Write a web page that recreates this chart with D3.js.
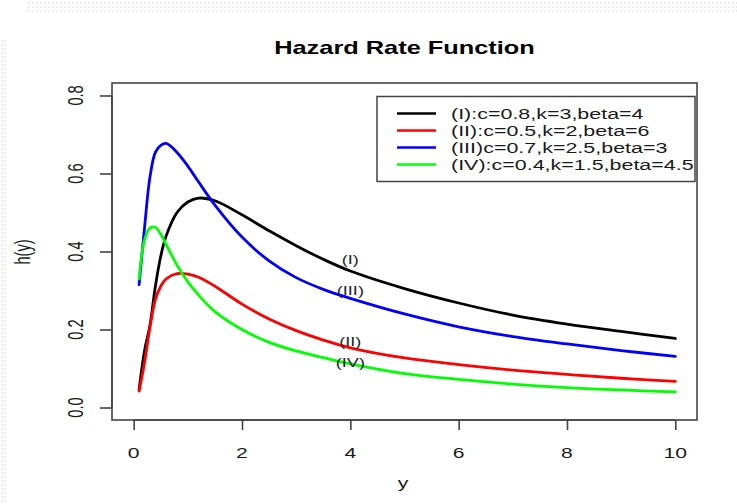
<!DOCTYPE html>
<html>
<head>
<meta charset="utf-8">
<script src="https://cdn.jsdelivr.net/npm/d3@7"></script>
<style>
  body { margin: 0; background: #fff; }
  svg { display: block; font-family: "Liberation Sans", Arial, sans-serif; }
</style>
</head>
<body>
<svg id="chart"></svg>
<script>
// x grid used by every curve
const xVals = [0.1, 0.2, 0.3, 0.4, 0.5, 0.6, 0.8, 1.0, 1.2, 1.5, 2, 2.5, 3, 3.5, 4, 5, 6, 7, 8, 9, 10];

// h(y)
const hI   = [0.046, 0.145, 0.21, 0.31, 0.388, 0.44, 0.50, 0.527, 0.537, 0.530, 0.494, 0.453, 0.415, 0.380, 0.350, 0.305, 0.268, 0.237, 0.214, 0.195, 0.177];
const hII  = [0.042, 0.115, 0.205, 0.277, 0.311, 0.330, 0.343, 0.342, 0.334, 0.311, 0.265, 0.227, 0.197, 0.173, 0.153, 0.127, 0.110, 0.096, 0.085, 0.075, 0.067];
const hIII = [0.315, 0.46, 0.59, 0.654, 0.672, 0.677, 0.654, 0.619, 0.578, 0.519, 0.437, 0.376, 0.333, 0.303, 0.280, 0.240, 0.207, 0.182, 0.163, 0.146, 0.131];
const hIV  = [0.33, 0.43, 0.46, 0.462, 0.444, 0.418, 0.365, 0.322, 0.288, 0.246, 0.200, 0.167, 0.145, 0.128, 0.112, 0.087, 0.072, 0.060, 0.051, 0.045, 0.040];

const seriesValues = [hI, hII, hIII, hIV];
const seriesColors = ["#000000", "#ff0000", "#0000ff", "#00ff00"];
const legendLabels = [
  "(I):c=0.8,k=3,beta=4",
  "(II):c=0.5,k=2,beta=6",
  "(III)c=0.7,k=2.5,beta=3",
  "(IV):c=0.4,k=1.5,beta=4.5"
];

// curve labels placed at x=4
const curveLabels = ["(I)", "(II)", "(III)", "(IV)"];
const curveLabelX = [4, 4, 4, 4];
const curveLabelY = [0.378, 0.168, 0.301, 0.115];

const xTicks = [0, 2, 4, 6, 8, 10];
const yTicks = [0, 0.2, 0.4, 0.6, 0.8];

const width = 737, height = 504;
const box = { left: 112, right: 697, top: 83, bottom: 420 };
const sx = 1.45; // the picture is stretched sideways, text too

const svg = d3.select("#chart").attr("width", width).attr("height", height);

// faint dotted frame left over from the screenshot
svg.append("rect").attr("width", width).attr("height", height).attr("fill", "#fff");
[3, 7, 11].forEach(y => {
  svg.append("line").attr("x1", 28).attr("x2", width).attr("y1", y).attr("y2", y)
    .attr("stroke", "#cfcfcf").attr("stroke-width", 1.2).attr("stroke-dasharray", "1.5,2.5");
});
[2, 5].forEach(x => {
  svg.append("line").attr("x1", x).attr("x2", x).attr("y1", 40).attr("y2", height)
    .attr("stroke", "#d6d6d6").attr("stroke-width", 1.2).attr("stroke-dasharray", "1.5,2.5");
});

const x = d3.scaleLinear().domain([-0.4, 10.4]).range([box.left, box.right]);
const y = d3.scaleLinear().domain([-0.032, 0.832]).range([box.bottom, box.top]);

// text helper: horizontally stretched text
function stretchedText(px, py, str, size, opts = {}) {
  const t = svg.append("text")
    .attr("transform", `translate(${px},${py}) scale(${sx},1)` + (opts.rotate ? ` rotate(${opts.rotate})` : ""))
    .attr("text-anchor", opts.anchor || "middle")
    .attr("dominant-baseline", "central")
    .attr("font-size", size)
    .attr("fill", opts.fill || "#1a1a1a")
    .text(str);
  if (opts.bold) t.attr("font-weight", "bold");
  return t;
}

// curves
const line = d3.line()
  .x((d, i) => x(xVals[i]))
  .y(d => y(d))
  .curve(d3.curveCatmullRom.alpha(0.5));

seriesValues.forEach((vals, i) => {
  svg.append("path")
    .datum(vals)
    .attr("fill", "none")
    .attr("stroke", seriesColors[i])
    .attr("stroke-width", 2.8)
    .attr("stroke-linejoin", "round")
    .attr("stroke-linecap", "round")
    .attr("d", line);
});

// plot box
svg.append("rect")
  .attr("x", box.left).attr("y", box.top)
  .attr("width", box.right - box.left).attr("height", box.bottom - box.top)
  .attr("fill", "none").attr("stroke", "#444").attr("stroke-width", 1.6);

// x axis
const xAxis = svg.append("g")
  .attr("transform", `translate(0,${box.bottom})`)
  .call(d3.axisBottom(x).tickValues(xTicks).tickSize(10).tickFormat(""));
xAxis.select(".domain").attr("stroke", "#444").attr("stroke-width", 1.6)
  .attr("d", `M${x(0)},0H${x(10)}`);
xAxis.selectAll(".tick line").attr("stroke", "#444").attr("stroke-width", 1.6);
xTicks.forEach(v => stretchedText(x(v), 453, d3.format("d")(v), 14.6));

// y axis
const yAxis = svg.append("g")
  .attr("transform", `translate(${box.left},0)`)
  .call(d3.axisLeft(y).tickValues(yTicks).tickSize(12).tickFormat(""));
yAxis.select(".domain").attr("stroke", "#444").attr("stroke-width", 1.6)
  .attr("d", `M0,${y(0)}V${y(0.8)}`);
yAxis.selectAll(".tick line").attr("stroke", "#444").attr("stroke-width", 1.6);
yTicks.forEach(v => stretchedText(76, y(v), d3.format(".1f")(v), 14.6, { rotate: -90 }));

// titles
stretchedText((box.left + box.right) / 2, 48, "Hazard Rate Function", 17.5, { bold: true, fill: "#000" });
stretchedText(403, 483, "y", 14.6);
stretchedText(23, 252, "h(y)", 14.6, { rotate: -90 });

// labels on the curves
curveLabels.forEach((lab, i) => {
  stretchedText(x(curveLabelX[i]), y(curveLabelY[i]), lab, 12.5, { fill: "#222" });
});

// legend
const legend = { left: 377, right: 695, top: 96.5, bottom: 181.5 };
svg.append("rect")
  .attr("x", legend.left).attr("y", legend.top)
  .attr("width", legend.right - legend.left).attr("height", legend.bottom - legend.top)
  .attr("fill", "#fff").attr("stroke", "#444").attr("stroke-width", 1.5);
const rowH = (legend.bottom - legend.top) / 5;
legendLabels.forEach((lab, i) => {
  const ry = legend.top + rowH * (i + 1);
  svg.append("line")
    .attr("x1", 397).attr("x2", 436).attr("y1", ry).attr("y2", ry)
    .attr("stroke", seriesColors[i]).attr("stroke-width", 2.6);
  stretchedText(451, ry, lab, 14.8, { anchor: "start" });
});
</script>
</body>
</html>
